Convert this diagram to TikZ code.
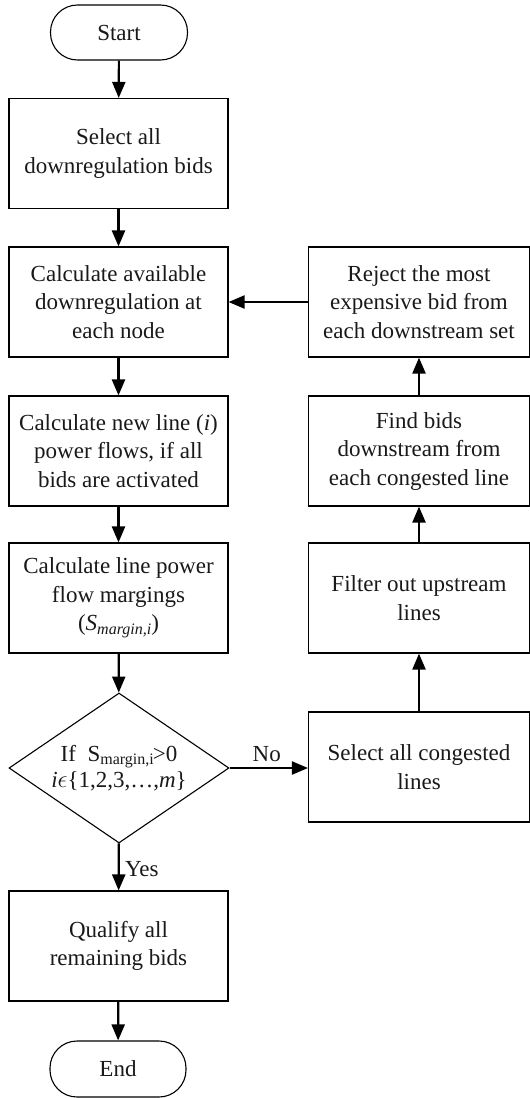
\documentclass[tikz,border=0pt]{standalone}
\usepackage{fontspec}
\setmainfont{Liberation Serif}
\usetikzlibrary{arrows.meta,shapes.geometric}

\tikzset{
  every node/.style={font=\fontsize{23}{28.5}\selectfont, text=black!90},
  procbox/.style={draw, line width=1.1pt, rectangle, minimum width=219pt,
    minimum height=110pt, align=center, inner sep=2pt},
  sidebox/.style={procbox, minimum width=221pt},
  terminal/.style={draw, line width=1.1pt, rectangle, rounded corners=27pt,
    minimum width=137pt, minimum height=55pt, align=center},
  decision/.style={draw, line width=1.1pt, diamond, aspect=1.47,
    minimum width=220pt, minimum height=150pt, align=center, inner sep=0pt},
  flow/.style={line width=2.2pt, -{Triangle[length=16pt,width=13pt]}},
}

\newcommand{\smargin}{\raisebox{-0.35ex}{\fontsize{16}{16}\selectfont margin,i}}
\newcommand{\smarginit}{\raisebox{-0.35ex}{\fontsize{16}{16}\selectfont\itshape margin,i}}

\begin{document}
\begin{tikzpicture}[x=1pt,y=-1pt]
  \useasboundingbox (0,0) rectangle (530,1098);

  % main column
  \node[terminal] (start) at (119,32.5) {Start};
  \node[procbox] (b1) at (118.5,153.5) {Select all\\downregulation bids};
  \node[procbox] (b2) at (118.5,302) {Calculate available\\downregulation at\\each node};
  \node[procbox] (b3) at (118.5,451) {Calculate new line (\textit{i})\\power flows, if all\\bids are activated};
  \node[procbox] (b4) at (118.5,598) {Calculate line power\\flow margings\\(\textit{S}\smarginit)};
  \node[decision] (dec) at (119,768) {If\ \ S\smargin\kern-1pt>0\\[-2pt]\textit{i}$\epsilon$\{1,2,3,\ldots,\textit{m}\}};
  \node[procbox] (qual) at (118.5,946) {Qualify all\\remaining bids};
  \node[terminal, minimum width=136pt, minimum height=56pt] (stop) at (118,1069) {End};

  % loop column
  \node[sidebox] (rej) at (419,302) {Reject the most\\expensive bid from\\each downstream set};
  \node[sidebox] (find) at (419,451) {Find bids\\downstream from\\each congested line};
  \node[sidebox] (filt) at (419,598) {Filter out upstream\\lines};
  \node[sidebox] (cong) at (419,767) {Select all congested\\lines};

  % connectors
  \draw[flow] (start) -- (b1);
  \draw[flow] (b1) -- (b2);
  \draw[flow] (b2) -- (b3);
  \draw[flow] (b3) -- (b4);
  \draw[flow] (b4) -- (dec);
  \draw[flow] (dec) -- node[right, xshift=2pt, yshift=-2pt] {Yes} (qual);
  \draw[flow] (qual) -- (stop);
  \draw[flow] (dec.east) -- node[above, xshift=-2pt, yshift=2pt] {No} (cong.west |- dec.east);
  \draw[flow] (cong) -- (filt);
  \draw[flow] (filt) -- (find);
  \draw[flow] (find) -- (rej);
  \draw[flow] (rej) -- (b2);
\end{tikzpicture}
\end{document}
